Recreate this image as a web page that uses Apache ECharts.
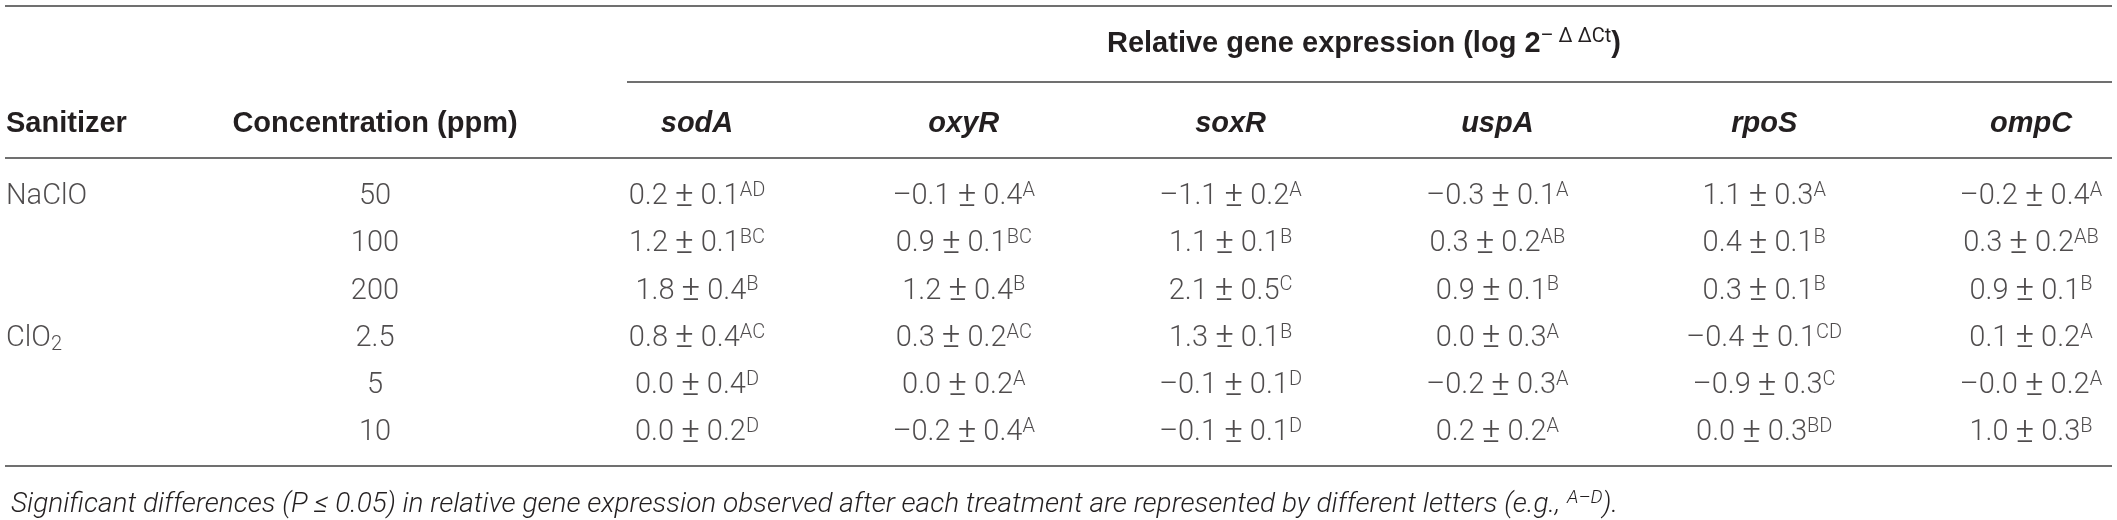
<!DOCTYPE html>
<html>
<head>
<meta charset="utf-8">
<script src="https://cdn.jsdelivr.net/npm/echarts@6/dist/echarts.min.js"></script>
<style>
html,body{margin:0;padding:0;background:#fff;}
#chart{width:2117px;height:520px;}
</style>
</head>
<body>
<div id="chart"></div>
<script>
// ---------- data ----------
const genes = ['sodA', 'oxyR', 'soxR', 'uspA', 'rpoS', 'ompC'];
const concentrations = ['50', '100', '200', '2.5', '5', '10'];
const sanitizerNames = ['NaClO', 'ClO2'];
const sanitizerRows = [0, 3];
const leftHeaders = ['Sanitizer', 'Concentration (ppm)'];

const sodA_mean = [0.2, 1.2, 1.8, 0.8, 0.0, 0.0];
const sodA_sd   = [0.1, 0.1, 0.4, 0.4, 0.4, 0.2];
const sodA_sig  = ['AD', 'BC', 'B', 'AC', 'D', 'D'];

const oxyR_mean = [-0.1, 0.9, 1.2, 0.3, 0.0, -0.2];
const oxyR_sd   = [0.4, 0.1, 0.4, 0.2, 0.2, 0.4];
const oxyR_sig  = ['A', 'BC', 'B', 'AC', 'A', 'A'];

const soxR_mean = [-1.1, 1.1, 2.1, 1.3, -0.1, -0.1];
const soxR_sd   = [0.2, 0.1, 0.5, 0.1, 0.1, 0.1];
const soxR_sig  = ['A', 'B', 'C', 'B', 'D', 'D'];

const uspA_mean = [-0.3, 0.3, 0.9, 0.0, -0.2, 0.2];
const uspA_sd   = [0.1, 0.2, 0.1, 0.3, 0.3, 0.2];
const uspA_sig  = ['A', 'AB', 'B', 'A', 'A', 'A'];

const rpoS_mean = [1.1, 0.4, 0.3, -0.4, -0.9, 0.0];
const rpoS_sd   = [0.3, 0.1, 0.1, 0.1, 0.3, 0.3];
const rpoS_sig  = ['A', 'B', 'B', 'CD', 'C', 'BD'];

const ompC_mean = [-0.2, 0.3, 0.9, 0.1, -0, 1.0];
const ompC_sd   = [0.4, 0.2, 0.1, 0.2, 0.2, 0.3];
const ompC_sig  = ['A', 'AB', 'B', 'A', 'A', 'B'];

const geneMeans = [sodA_mean, oxyR_mean, soxR_mean, uspA_mean, rpoS_mean, ompC_mean];
const geneSds   = [sodA_sd, oxyR_sd, soxR_sd, uspA_sd, rpoS_sd, ompC_sd];
const geneSigs  = [sodA_sig, oxyR_sig, soxR_sig, uspA_sig, rpoS_sig, ompC_sig];

// ---------- styles ----------
const INK = '#231f20';
const RULE = '#707070';
const LIGHT = 'Roboto';
const BOLD = '"Liberation Sans", Arial, Helvetica, sans-serif';

function fmt(v) {
  const neg = v < 0 || Object.is(v, -0);
  return (neg ? '\u2013' : '') + Math.abs(v).toFixed(1);
}

const cellRich = {
  m: { fontFamily: LIGHT, fontWeight: 300, fontSize: 29, color: INK, lineHeight: 32 },
  pm: { fontFamily: LIGHT, fontWeight: 300, fontSize: 35, color: INK, lineHeight: 32 },
  s: { fontFamily: LIGHT, fontWeight: 300, fontSize: 20, color: INK, lineHeight: 14, verticalAlign: 'top' },
  b: { fontFamily: LIGHT, fontWeight: 300, fontSize: 20, color: INK, lineHeight: 10, verticalAlign: 'bottom' }
};

const rowIdx = concentrations.map((c, i) => i);

const geneSeries = genes.map((g, gi) => ({
  type: 'scatter',
  name: g,
  xAxisIndex: 0, yAxisIndex: 0,
  symbolSize: 0,
  silent: true,
  data: rowIdx.map(ri => ({
    value: [gi, ri],
    mean: geneMeans[gi][ri], sd: geneSds[gi][ri], sig: geneSigs[gi][ri]
  })),
  label: {
    show: true, position: 'inside',
    formatter: p => '{m|' + fmt(p.data.mean) + ' }{pm|\u00b1}{m| ' + p.data.sd.toFixed(1) + '}{s|' + p.data.sig + '}',
    rich: cellRich
  }
}));

const concSeries = {
  type: 'scatter', xAxisIndex: 1, yAxisIndex: 1, symbolSize: 0, silent: true,
  data: concentrations.map((c, i) => ({ value: [1, i], txt: c })),
  label: { show: true, position: 'inside', formatter: p => '{m|' + p.data.txt + '}', rich: cellRich }
};

const sanSeries = {
  type: 'scatter', xAxisIndex: 1, yAxisIndex: 1, symbolSize: 0, silent: true,
  data: sanitizerNames.map((n, i) => ({ value: [0, sanitizerRows[i]], txt: n })),
  label: {
    show: true, position: 'inside', align: 'left',
    formatter: p => p.data.txt === 'ClO2' ? '{m|ClO}{b|2}' : '{m|' + p.data.txt + '}',
    rich: cellRich
  }
};

const catY = (gi) => ({
  type: 'category', gridIndex: gi, inverse: true, boundaryGap: false,
  data: concentrations, show: false
});

const option = {
  animation: false,
  backgroundColor: '#ffffff',
  grid: [
    { left: 697, right: 86, top: 197, bottom: 87 },
    { left: 6, right: 1742, top: 197, bottom: 87 }
  ],
  xAxis: [
    {
      type: 'category', gridIndex: 0, position: 'top', boundaryGap: false,
      data: genes,
      axisLine: { show: false }, axisTick: { show: false }, splitLine: { show: false },
      axisLabel: {
        show: true, interval: 0, margin: 59, color: INK, fontFamily: BOLD, fontWeight: 'bold',
        fontStyle: 'italic', fontSize: 29
      },
      name: '{t|Relative gene expression (log 2}{u|\u2013 \u0394 \u0394Ct}{t|)}',
      nameLocation: 'middle', nameGap: 136,
      nameTextStyle: {
        rich: {
          t: { fontFamily: BOLD, fontWeight: 'bold', fontSize: 29, color: INK, lineHeight: 34 },
          u: { fontFamily: LIGHT, fontWeight: 400, fontSize: 20, color: INK, lineHeight: 16, verticalAlign: 'top' }
        }
      }
    },
    {
      type: 'category', gridIndex: 1, position: 'top', boundaryGap: false,
      data: [
        { value: leftHeaders[0], textStyle: { align: 'left' } },
        { value: leftHeaders[1], textStyle: { align: 'center' } }
      ],
      axisLine: { show: false }, axisTick: { show: false }, splitLine: { show: false },
      axisLabel: {
        show: true, interval: 0, hideOverlap: false, margin: 59, color: INK,
        fontFamily: BOLD, fontWeight: 'bold', fontSize: 29
      }
    }
  ],
  yAxis: [catY(0), catY(1)],
  title: {
    left: 6, top: 484,
    text: '{i|Significant differences (P \u2264 0.05) in relative gene expression observed after each treatment are represented by different letters (e.g., }{s|A\u2013D}{i|).}',
    textStyle: {
      rich: {
        i: { fontFamily: LIGHT, fontWeight: 300, fontStyle: 'italic', fontSize: 28, color: INK, lineHeight: 32 },
        s: { fontFamily: LIGHT, fontWeight: 300, fontStyle: 'italic', fontSize: 19, color: INK, lineHeight: 14, verticalAlign: 'top' }
      }
    }
  },
  graphic: [
    { type: 'line', shape: { x1: 5, y1: 6, x2: 2112, y2: 6 }, style: { stroke: RULE, lineWidth: 2 } },
    { type: 'line', shape: { x1: 627, y1: 82, x2: 2112, y2: 82 }, style: { stroke: RULE, lineWidth: 2 } },
    { type: 'line', shape: { x1: 5, y1: 158, x2: 2112, y2: 158 }, style: { stroke: RULE, lineWidth: 2 } },
    { type: 'line', shape: { x1: 5, y1: 466, x2: 2112, y2: 466 }, style: { stroke: RULE, lineWidth: 2 } }
  ],
  series: [...geneSeries, concSeries, sanSeries]
};

const chart = echarts.init(document.getElementById('chart'), null, { renderer: 'canvas' });
chart.setOption(option);
</script>
</body>
</html>
